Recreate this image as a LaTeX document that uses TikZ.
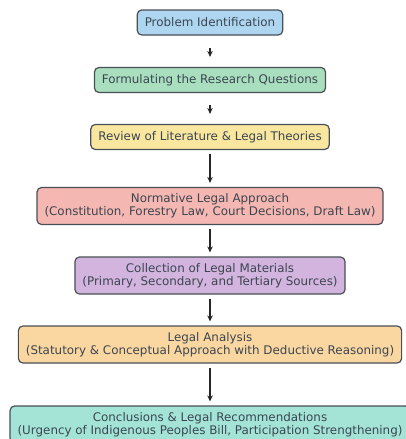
\documentclass[tikz,border=0pt]{standalone}
\usepackage{fontspec}
\setmainfont{DejaVu Sans}
\usetikzlibrary{arrows.meta}

\definecolor{boxline}{HTML}{4A4F55}
\definecolor{boxtext}{HTML}{3C4652}
\definecolor{problemfill}{HTML}{AED6F1}
\definecolor{questionfill}{HTML}{A9DFBF}
\definecolor{reviewfill}{HTML}{F9E79F}
\definecolor{normfill}{HTML}{F5B7B1}
\definecolor{collectfill}{HTML}{D2B4DE}
\definecolor{analysisfill}{HTML}{FAD7A0}
\definecolor{conclfill}{HTML}{A3E4D7}

\begin{document}
\begin{tikzpicture}[
    x=1pt, y=1pt,
    font=\fontsize{11.9}{13.3}\selectfont,
    >={Stealth[length=6pt,width=5.5pt]},
    stepbox/.style={draw=boxline, line width=1.2pt, rounded corners=4.5pt, align=center, minimum height=25pt, inner xsep=7.5pt, inner ysep=2pt, text=boxtext},
    widebox/.style={stepbox, minimum height=37pt},
    arrow/.style={->, line width=1.4pt, black!85},
    shortarrow/.style={arrow, shorten <=12pt, shorten >=10pt},
    longarrow/.style={arrow, shorten <=4pt, shorten >=4pt}
  ]
    \useasboundingbox (0,0) rectangle (405,-439);

    \node[stepbox, fill=problemfill] (problem) at (210,-22.5) {Problem Identification};
    \node[stepbox, fill=questionfill] (questions) at (210,-80) {Formulating the Research Questions};
    \node[stepbox, fill=reviewfill] (review) at (210,-137) {Review of Literature \& Legal Theories};
    \node[widebox, fill=normfill] (normative) at (210,-206) {Normative Legal Approach\\(Constitution, Forestry Law, Court Decisions, Draft Law)};
    \node[widebox, fill=collectfill] (collection) at (210,-275.5) {Collection of Legal Materials\\(Primary, Secondary, and Tertiary Sources)};
    \node[widebox, fill=analysisfill] (analysis) at (210,-344.5) {Legal Analysis\\(Statutory \& Conceptual Approach with Deductive Reasoning)};
    \node[widebox, fill=conclfill] (conclusions) at (210,-424.5) {Conclusions \& Legal Recommendations\\(Urgency of Indigenous Peoples Bill, Participation Strengthening)};

    \draw[shortarrow] (problem.south) -- (questions.north);
    \draw[shortarrow] (questions.south) -- (review.north);
    \draw[longarrow] (review.south) -- (normative.north);
    \draw[longarrow] (normative.south) -- (collection.north);
    \draw[longarrow] (collection.south) -- (analysis.north);
    \draw[longarrow] (analysis.south) -- (conclusions.north);
  \end{tikzpicture}
\end{document}
